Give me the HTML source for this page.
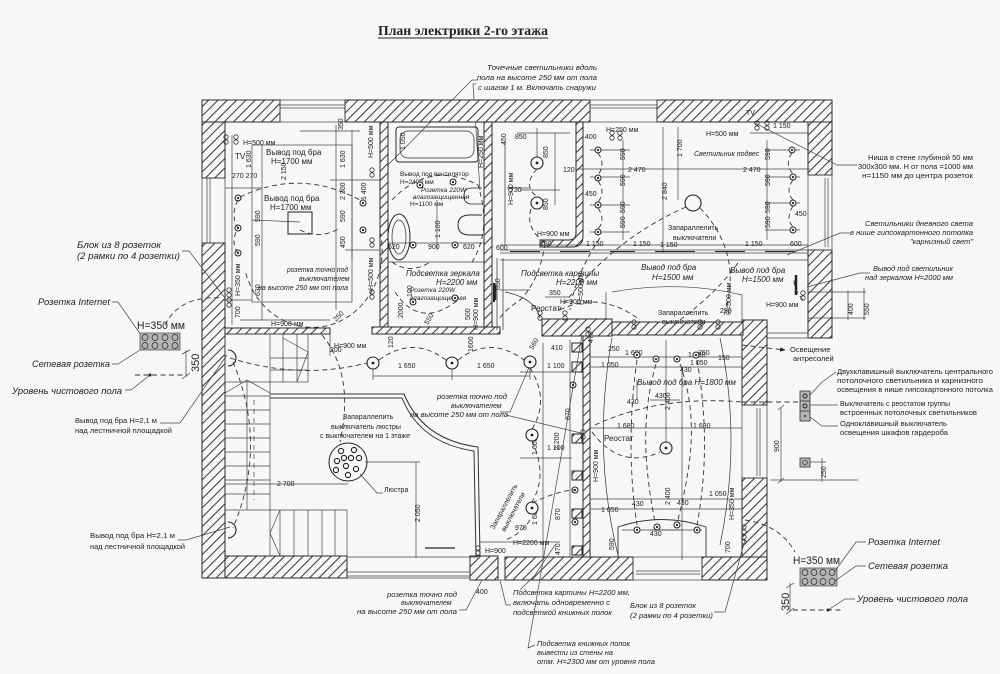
<!DOCTYPE html>
<html><head><meta charset="utf-8"><style>
html,body{margin:0;padding:0;background:#f7f7f7;}
svg{display:block}
text{font-family:"Liberation Sans",sans-serif;fill:#222}
.i{font-style:italic}
.l{fill:none;stroke:#444;stroke-width:.7}
.k{fill:none;stroke:#2a2a2a;stroke-width:1}
.d{fill:none;stroke:#333;stroke-width:.9;stroke-dasharray:5 3.5}
.w{fill:url(#h);stroke:#2a2a2a;stroke-width:1}
.f6{font-size:6.5px}.f7{font-size:7px}.f75{font-size:7.5px}.f8{font-size:8px}.f9{font-size:9.5px}
</style></head><body>
<svg xmlns="http://www.w3.org/2000/svg" width="1000" height="674" viewBox="0 0 1000 674">
<defs>
<pattern id="h" patternUnits="userSpaceOnUse" width="6.6" height="6.6" patternTransform="rotate(45)"><rect width="6.6" height="6.6" fill="#f7f7f7"/><line x1="0.5" y1="0" x2="0.5" y2="6.6" stroke="#333" stroke-width="1"/></pattern>
<marker id="ar" viewBox="0 0 10 10" refX="9" refY="5" markerWidth="6" markerHeight="6" orient="auto"><path d="M0,1 L10,5 L0,9 z" fill="#222"/></marker>
<g id="L"><circle r="6" fill="#f7f7f7" stroke="#222" stroke-width="1.1"/><circle r="1.4" fill="#222"/></g>
<g id="s"><circle r="3" fill="#f7f7f7" stroke="#222" stroke-width="1"/><circle r="1.1" fill="#222"/></g>
<g id="o"><circle r="2.2" fill="none" stroke="#333" stroke-width=".8"/><circle cy="5" r="2.2" fill="none" stroke="#333" stroke-width=".8"/></g>
</defs>
<rect width="1000" height="674" fill="#f7f7f7"/>

<!-- Title -->
<text x="378" y="35" font-weight="bold" font-size="14" textLength="170" lengthAdjust="spacingAndGlyphs" style="font-family:'Liberation Serif',serif">План электрики 2-го этажа</text>
<line x1="378" y1="38" x2="548" y2="38" stroke="#222" stroke-width="1"/>

<!-- Top note -->
<text x="487" y="70" class="i f75" textLength="110" lengthAdjust="spacingAndGlyphs">Точечные светильники вдоль</text>
<text x="477" y="80" class="i f75" textLength="120" lengthAdjust="spacingAndGlyphs">пола на высоте 250 мм от пола</text>
<text x="478" y="90" class="i f75" textLength="118" lengthAdjust="spacingAndGlyphs">с шагом 1 м. Включать снаружи</text>
<polyline class="l" points="478,80 472,80 387,166"/>
<polyline class="l" points="476,84 473,84 480,190"/>

<!-- ============ WALLS ============ -->
<g>
<rect class="w" x="202" y="100" width="78" height="22"/>
<rect class="w" x="345" y="100" width="245" height="22"/>
<rect class="w" x="657" y="100" width="175" height="22"/>
<rect class="w" x="808" y="122" width="24" height="53"/>
<rect class="w" x="808" y="250" width="24" height="88"/>
<rect class="w" x="202" y="122" width="23" height="56"/>
<rect class="w" x="202" y="243" width="23" height="335"/>
<rect class="w" x="225" y="556" width="122" height="22"/>
<rect class="w" x="470" y="556" width="28" height="24"/>
<rect class="w" x="505" y="557" width="128" height="23"/>
<rect class="w" x="702" y="557" width="65" height="23"/>
<rect class="w" x="742" y="320" width="25" height="85"/>
<rect class="w" x="742" y="478" width="25" height="79"/>
<!-- interior -->
<rect class="w" x="225" y="328" width="105" height="6"/>
<rect class="w" x="380" y="122" width="8" height="211"/>
<rect class="w" x="484" y="122" width="8" height="211"/>
<rect class="w" x="372" y="327" width="128" height="7"/>
<path class="w" d="M576,122 L583,122 L583,236 Q583,247 572,247 L540,247 L540,240 L569,240 Q576,240 576,233 Z"/>
<rect class="w" x="542" y="319" width="70" height="17"/>
<rect class="w" x="612" y="322" width="131" height="13"/>
<rect class="w" x="583" y="336" width="7" height="221"/>
<!-- bookshelf posts -->
<rect class="w" x="572" y="343" width="10" height="9"/>
<rect class="w" x="572" y="362" width="10" height="10"/>
<rect class="w" x="572" y="434" width="10" height="9"/>
<rect class="w" x="572" y="471" width="10" height="9"/>
<rect class="w" x="572" y="509" width="10" height="9"/>
<rect class="w" x="572" y="546" width="10" height="9"/>
</g>

<!-- windows -->
<g class="l">
<rect x="280" y="100" width="65" height="22"/><line x1="280" y1="105" x2="345" y2="105"/><line x1="280" y1="108" x2="345" y2="108"/>
<rect x="590" y="100" width="67" height="22"/><line x1="590" y1="105" x2="657" y2="105"/><line x1="590" y1="108" x2="657" y2="108"/>
<rect x="202" y="178" width="23" height="65"/><line x1="207" y1="178" x2="207" y2="243"/><line x1="210" y1="178" x2="210" y2="243"/>
<rect x="808" y="175" width="24" height="75"/><line x1="825" y1="178" x2="825" y2="247"/><line x1="828" y1="178" x2="828" y2="247"/>
<rect x="742" y="405" width="25" height="73"/><line x1="757" y1="408" x2="757" y2="476"/><line x1="760" y1="408" x2="760" y2="476"/>
<line x1="347" y1="572" x2="470" y2="572"/><line x1="347" y1="576" x2="470" y2="576"/><line x1="347" y1="578" x2="470" y2="578"/>
<line x1="347" y1="557" x2="478" y2="557"/>
<rect x="633" y="557" width="69" height="23"/><line x1="636" y1="571" x2="700" y2="571"/><line x1="636" y1="574" x2="700" y2="574"/>
<line x1="767" y1="333" x2="808" y2="333"/><line x1="767" y1="338" x2="808" y2="338"/>
<line x1="498" y1="580" x2="505" y2="580"/>
</g>

<!-- Bathroom fixtures -->
<g class="k">
<rect x="396" y="127" width="82" height="35" rx="3"/>
<rect x="400" y="131" width="74" height="27" rx="8" stroke-width=".7"/>
<ellipse cx="399" cy="237" rx="11" ry="23"/>
<ellipse cx="399" cy="237" rx="7" ry="17" stroke-width=".7"/>
<path d="M482,215 L470,215 Q458,215 458,225 Q458,235 470,235 L482,235"/>
<path d="M482,188 L472,188 Q464,188 464,196 Q464,204 472,204 L482,204" stroke-width=".8"/>
<line x1="505" y1="140" x2="505" y2="245" stroke-width=".7"/>
<line x1="497" y1="258" x2="497" y2="330" stroke-width=".7"/>
<line x1="503" y1="258" x2="503" y2="330" stroke-width=".7"/>
<path d="M505,292 Q535,298 540,318" stroke-width=".7"/>
<line x1="495" y1="285" x2="495" y2="300" stroke-width="2.5"/>
</g>

<!-- Top-left room -->
<g class="l">
<rect x="252" y="145" width="100" height="157"/>
<rect x="288" y="212" width="24" height="22" stroke="#222" stroke-width="1"/>
<line x1="232" y1="135" x2="232" y2="325"/>
<line x1="225" y1="188" x2="262" y2="188"/>
<line x1="225" y1="300" x2="252" y2="300"/>
<line x1="352" y1="130" x2="352" y2="260"/>
<line x1="300" y1="131" x2="360" y2="131"/>
<line x1="336" y1="125" x2="336" y2="310"/>
<line x1="262" y1="145" x2="262" y2="320"/>
<line x1="240" y1="320" x2="330" y2="320"/>
<line x1="252" y1="220" x2="300" y2="222"/>
<line x1="330" y1="180" x2="380" y2="180"/>
<line x1="345" y1="250" x2="380" y2="250"/>
</g>
<g class="f7">
<text x="243" y="145">Н=500 мм</text>
<text x="235" y="159" font-size="8">TV</text>
<text x="232" y="178">270 270</text>
<text x="266" y="155" class="f8">Вывод под бра</text>
<text x="271" y="164" class="f8">Н=1700 мм</text>
<text x="264" y="201" class="f8">Вывод под бра</text>
<text x="270" y="210" class="f8">Н=1700 мм</text>
<text x="287" y="272" class="i" textLength="61" lengthAdjust="spacingAndGlyphs">розетка точно под</text>
<text x="299" y="281" class="i">выключателем</text>
<text x="258" y="290" class="i" textLength="90" lengthAdjust="spacingAndGlyphs">на высоте  250 мм от пола</text>
<text x="271" y="326">Н=900 мм</text>
<text x="334" y="348">Н=900 мм</text>
<text x="330" y="352" font-size="7">200</text>
<text transform="translate(251,168) rotate(-90)">1 630</text>
<text transform="translate(286,180) rotate(-90)">2 150</text>
<text transform="translate(345,168) rotate(-90)">1 630</text>
<text transform="translate(343,130) rotate(-90)">350</text>
<text transform="translate(345,200) rotate(-90)">2 300</text>
<text transform="translate(366,200) rotate(-90)">1 400</text>
<text transform="translate(260,222) rotate(-90)">590</text>
<text transform="translate(260,246) rotate(-90)">590</text>
<text transform="translate(260,296) rotate(-90)">630</text>
<text transform="translate(345,222) rotate(-90)">590</text>
<text transform="translate(345,248) rotate(-90)">450</text>
<text transform="translate(240,318) rotate(-90)">700</text>
<text transform="translate(240,296) rotate(-90)">Н=350 мм</text>
<text transform="translate(373,158) rotate(-90)">Н=500 мм</text>
<text transform="translate(373,290) rotate(-90)">Н=500 мм</text>
<text transform="translate(336,322) rotate(-45)">250</text>
</g>

<!-- Bathroom labels -->
<g class="f6">
<text x="400" y="176">Вывод под вентилятор</text>
<text x="400" y="184">Н=2400 мм</text>
<text x="421" y="192" class="i">Розетка 220W</text>
<text x="413" y="199" class="i">влагозащищенная</text>
<text x="410" y="206">Н=1100 мм</text>
<text x="388" y="249" font-size="7">620</text>
<text x="428" y="249" font-size="7">900</text>
<text x="463" y="249" font-size="7">620</text>
<text x="406" y="276" class="i f8">Подсветка зеркала</text>
<text x="436" y="285" class="i f8">Н=2200 мм</text>
<text x="410" y="292" class="i">Розетка 220W</text>
<text x="410" y="300" class="i">влагозащищенная</text>
<text transform="translate(440,238) rotate(-90)" font-size="7">1 100</text>
<text transform="translate(412,297) rotate(-90)" font-size="7">100</text>
<text transform="translate(403,318) rotate(-90)" font-size="7">2000</text>
<text transform="translate(428,325) rotate(-60)" font-size="7">550</text>
<text transform="translate(470,320) rotate(-90)" font-size="7">500</text>
<text transform="translate(478,330) rotate(-90)" font-size="7">Н=900 мм</text>
<text transform="translate(405,150) rotate(-90)" font-size="7">1 050</text>
<text transform="translate(483,168) rotate(-90)" font-size="7">Н=250 мм</text>
<text transform="translate(393,348) rotate(-90)" font-size="7">120</text>
<text transform="translate(473,352) rotate(-90)" font-size="7">1600</text>
</g>
<g class="l">
<line x1="388" y1="243" x2="484" y2="243"/>
<line x1="437" y1="200" x2="437" y2="250"/>
<line x1="388" y1="262" x2="484" y2="262"/>
</g>

<!-- Top-right room -->
<g class="l">
<line x1="537" y1="128" x2="537" y2="165"/>
<line x1="517" y1="133" x2="570" y2="133"/>
<line x1="555" y1="133" x2="555" y2="205"/>
<line x1="520" y1="190" x2="560" y2="190"/>
<line x1="507" y1="188" x2="530" y2="188"/>
<line x1="577" y1="169" x2="810" y2="169"/>
<line x1="663" y1="127" x2="663" y2="253"/>
<line x1="678" y1="127" x2="678" y2="200"/>
<line x1="590" y1="150" x2="630" y2="150"/><line x1="590" y1="177" x2="630" y2="177"/><line x1="590" y1="205" x2="630" y2="205"/><line x1="590" y1="232" x2="630" y2="232"/>
<line x1="623" y1="140" x2="623" y2="240"/>
<line x1="765" y1="150" x2="800" y2="150"/><line x1="765" y1="177" x2="800" y2="177"/><line x1="765" y1="203" x2="800" y2="203"/><line x1="765" y1="230" x2="800" y2="230"/>
<line x1="767" y1="140" x2="767" y2="240"/>
<line x1="500" y1="245" x2="808" y2="245"/>
<line x1="500" y1="250" x2="808" y2="250"/>
<line x1="500" y1="253" x2="808" y2="253"/>
<line x1="500" y1="260" x2="808" y2="260"/>
<line x1="750" y1="133" x2="808" y2="133"/>
</g>
<g class="k" stroke-width="1.3">
<line x1="510" y1="251.5" x2="540" y2="251.5"/><line x1="560" y1="251.5" x2="590" y2="251.5"/><line x1="610" y1="251.5" x2="635" y2="251.5"/><line x1="655" y1="251.5" x2="695" y2="251.5"/><line x1="715" y1="251.5" x2="745" y2="251.5"/><line x1="765" y1="251.5" x2="795" y2="251.5"/>
</g>
<g class="f7">
<text x="515" y="139">850</text>
<text transform="translate(506,145) rotate(-90)">450</text>
<text transform="translate(548,158) rotate(-90)">850</text>
<text transform="translate(548,210) rotate(-90)">850</text>
<text transform="translate(513,205) rotate(-90)">Н=900 мм</text>
<text x="563" y="172">120</text>
<text x="510" y="192">730</text>
<text x="537" y="236">Н=900 мм</text>
<text x="585" y="139">400</text>
<text x="585" y="196">450</text>
<text x="606" y="132">Н=250 мм</text>
<text transform="translate(625,160) rotate(-90)">590</text>
<text transform="translate(625,186) rotate(-90)">590</text>
<text transform="translate(625,213) rotate(-90)">590</text>
<text transform="translate(625,228) rotate(-90)">590</text>
<text x="628" y="172">2 470</text>
<text transform="translate(667,200) rotate(-90)">2 840</text>
<text transform="translate(682,157) rotate(-90)">1 700</text>
<text x="706" y="136">Н=500 мм</text>
<text x="746" y="115">TV</text>
<text x="694" y="156" class="i">Светильник подвес</text>
<text x="743" y="172">2 470</text>
<text x="773" y="128">1 150</text>
<text transform="translate(770,160) rotate(-90)">590</text>
<text transform="translate(770,186) rotate(-90)">590</text>
<text transform="translate(770,213) rotate(-90)">590</text>
<text transform="translate(770,228) rotate(-90)">590</text>
<text x="795" y="216">450</text>
<text x="668" y="230">Запараллелить</text>
<text x="673" y="240">выключатели</text>
<text x="586" y="246">1 150</text>
<text x="633" y="246">1 150</text>
<text x="660" y="247">1 150</text>
<text x="745" y="246">1 150</text>
<text x="790" y="246">600</text>
<text x="540" y="246">150</text>
<text x="521" y="276" class="i f8">Подсветка картины</text>
<text x="556" y="285" class="i f8">Н=2200 мм</text>
<text x="641" y="270" class="i f8">Вывод под бра</text>
<text x="652" y="280" class="i f8">Н=1500 мм</text>
<text x="730" y="273" class="i f8">Вывод под бра</text>
<text x="742" y="282" class="i f8">Н=1500 мм</text>
<text x="766" y="307">Н=900 мм</text>
<text x="549" y="295">350</text>
<text x="560" y="304">Н=900 мм</text>
<text x="531" y="311" font-size="8">Реостат</text>
<text x="658" y="315">Запараллелить</text>
<text x="662" y="324">выключатели</text>
<text x="720" y="313">250</text>
<text transform="translate(583,305) rotate(-90)">Н=500 мм</text>
<text transform="translate(731,315) rotate(-90)">Н=500 мм</text>
<text transform="translate(500,290) rotate(-90)">650</text>
<text x="496" y="250">600</text>
</g>
<g class="l">
<line x1="500" y1="290" x2="530" y2="290"/>
<line x1="606" y1="292" x2="606" y2="320"/>
<path d="M612,292 Q680,280 742,295"/>
<line x1="742" y1="295" x2="742" y2="320"/>
<line x1="545" y1="297" x2="570" y2="297"/>
</g>

<!-- Middle area -->
<g class="l">
<line x1="270" y1="394" x2="404" y2="394" stroke="#333" stroke-width="1"/>
<line x1="270" y1="398" x2="402" y2="398" stroke="#333" stroke-width="1"/>
<path d="M404,394 Q423,440 478,447" stroke="#333" stroke-width="1"/>
<path d="M402,398 Q420,443 474,451" stroke="#333" stroke-width="1"/>
<line x1="478" y1="447" x2="480" y2="557" stroke="#333" stroke-width="1"/>
<line x1="474" y1="451" x2="476" y2="557" stroke="#333" stroke-width="1"/>
<line x1="373" y1="376" x2="530" y2="376"/>
<line x1="373" y1="366" x2="373" y2="380"/><line x1="452" y1="366" x2="452" y2="380"/><line x1="530" y1="366" x2="530" y2="380"/>
<line x1="225" y1="484" x2="348" y2="484"/>
<line x1="365" y1="462" x2="420" y2="462"/>
<line x1="416" y1="462" x2="416" y2="558"/>
<line x1="543" y1="343" x2="543" y2="557"/>
<line x1="570" y1="340" x2="570" y2="557"/>
<line x1="520" y1="372" x2="572" y2="372"/>
<line x1="520" y1="458" x2="572" y2="458"/>
<line x1="480" y1="542" x2="560" y2="542"/>
</g>
<!-- stairs -->
<g class="l" stroke="#333" stroke-width=".8">
<rect x="225" y="334" width="83" height="48"/>
<line x1="270" y1="334" x2="270" y2="556"/>
<line x1="283" y1="334" x2="283" y2="382"/><line x1="297" y1="334" x2="297" y2="382"/>
<line x1="270" y1="358" x2="308" y2="358"/><line x1="270" y1="370" x2="308" y2="370"/>
<polyline points="283,338 308,352 297,382"/>
<line x1="225" y1="396" x2="270" y2="396"/><line x1="225" y1="410" x2="270" y2="410"/><line x1="225" y1="424" x2="270" y2="424"/><line x1="225" y1="438" x2="270" y2="438"/><line x1="225" y1="452" x2="270" y2="452"/><line x1="225" y1="466" x2="270" y2="466"/><line x1="225" y1="480" x2="270" y2="480"/><line x1="225" y1="494" x2="270" y2="494"/>
<line x1="225" y1="510" x2="347" y2="510"/>
<polyline points="225,393 247,380 270,393"/>
<line x1="247" y1="380" x2="247" y2="510"/>
<line x1="254" y1="400" x2="254" y2="500" stroke-dasharray="5 4"/>
<line x1="280" y1="510" x2="280" y2="556"/><line x1="294" y1="510" x2="294" y2="556"/><line x1="308" y1="510" x2="308" y2="556"/><line x1="322" y1="510" x2="322" y2="556"/><line x1="335" y1="510" x2="335" y2="556"/><line x1="347" y1="510" x2="347" y2="556"/>
<polyline points="280,510 270,533 280,556"/>
<line x1="330" y1="334" x2="330" y2="356"/>
</g>
<!-- chandelier -->
<circle cx="348" cy="462" r="19" fill="none" stroke="#222" stroke-width="1"/>
<g fill="none" stroke="#222" stroke-width="1.1">
<circle cx="341" cy="451" r="2.6"/><circle cx="354" cy="450" r="2.6"/><circle cx="337" cy="461" r="2.6"/><circle cx="344" cy="458" r="2.6"/><circle cx="351" cy="458" r="2.6"/><circle cx="359" cy="458" r="2.6"/><circle cx="346" cy="466" r="2.6"/><circle cx="336" cy="470" r="2.6"/><circle cx="356" cy="469" r="2.6"/><circle cx="348" cy="475" r="2.6"/>
</g>
<polyline class="l" points="360,474 377,493 383,493"/>
<g class="f7">
<text x="343" y="419">Запараллелить</text>
<text x="331" y="429">выключатель люстры</text>
<text x="320" y="438">с выключателем на 1 этаже</text>
<text x="384" y="492">Люстра</text>
<text x="277" y="486">2 700</text>
<text transform="translate(420,522) rotate(-90)">2 050</text>
<text x="398" y="368">1 650</text>
<text x="477" y="368">1 650</text>
<text x="437" y="399" class="i" textLength="70" lengthAdjust="spacingAndGlyphs">розетка точно под</text>
<text x="451" y="408" class="i">выключателем</text>
<text x="410" y="417" class="i" textLength="98" lengthAdjust="spacingAndGlyphs">на высоте  250 мм от пола</text>
<text x="387" y="597" class="i" textLength="70" lengthAdjust="spacingAndGlyphs">розетка точно под</text>
<text x="401" y="605" class="i">выключателем</text>
<text x="357" y="614" class="i" textLength="100" lengthAdjust="spacingAndGlyphs">на высоте  250 мм от пола</text>
<text x="476" y="594">400</text>
<text transform="translate(494,530) rotate(-62)">Запараллелить</text>
<text transform="translate(505,532) rotate(-62)">выключатели</text>
<text x="485" y="553">Н=900</text>
<text x="513" y="545">Н=2200 мм</text>
<text x="515" y="530">970</text>
<text transform="translate(537,525) rotate(-90)">1 600</text>
<text transform="translate(537,455) rotate(-90)">1 600</text>
<text transform="translate(559,450) rotate(-90)">2 200</text>
<text x="547" y="368">1 100</text>
<text x="547" y="450">1 100</text>
<text transform="translate(560,520) rotate(-90)">870</text>
<text transform="translate(560,555) rotate(-90)">470</text>
<text transform="translate(570,420) rotate(-90)">870</text>
<text x="551" y="350">410</text>
<text transform="translate(533,350) rotate(-60)">560</text>
</g>
<polyline class="l" points="459,610 466,610 482,580"/>
<polyline class="l" points="500,412 510,412 530,365"/>
<polyline class="l" points="506,415 585,434"/>

<!-- Lower right room -->
<g class="l">
<path d="M612,338 Q592,450 618,555" stroke="#333"/>
<path d="M720,338 Q742,440 720,545" stroke="#333"/>
<path d="M618,557 L618,527 Q662,512 706,527 L706,557" stroke="#333" stroke-width=".9"/>
<line x1="622" y1="530" x2="702" y2="530"/>
<line x1="590" y1="357" x2="742" y2="357"/>
<line x1="590" y1="367" x2="742" y2="367"/>
<line x1="590" y1="428" x2="742" y2="428"/>
<line x1="590" y1="499" x2="742" y2="499"/>
<line x1="590" y1="509" x2="742" y2="509"/>
<line x1="682" y1="367" x2="682" y2="560"/>
<line x1="666" y1="340" x2="666" y2="448"/>
<line x1="637" y1="380" x2="637" y2="400"/>
<line x1="650" y1="400" x2="680" y2="400"/>
<line x1="650" y1="530" x2="680" y2="530"/>
</g>
<g class="f7">
<text x="608" y="351">250</text>
<text x="601" y="367">1 050</text>
<text x="625" y="355">1 680</text>
<text x="688" y="357">1 680</text>
<text x="690" y="365">1 050</text>
<text x="698" y="355">250</text>
<text x="718" y="360">150</text>
<text x="637" y="385" class="i f8">Вывод под бра Н=1800 мм</text>
<text x="655" y="398">430</text>
<text x="627" y="404">430</text>
<text x="680" y="372">430</text>
<text x="617" y="428">1 680</text>
<text x="693" y="428">1 680</text>
<text x="604" y="441" font-size="8">Реостат</text>
<text transform="translate(670,410) rotate(-90)">2 400</text>
<text transform="translate(670,505) rotate(-90)">2 400</text>
<text x="709" y="496">1 050</text>
<text x="601" y="512">1 050</text>
<text x="632" y="506">430</text>
<text x="677" y="505">430</text>
<text x="650" y="536">430</text>
<text transform="translate(598,482) rotate(-90)">Н=900 мм</text>
<text transform="translate(614,550) rotate(-90)">590</text>
<text transform="translate(730,553) rotate(-90)">700</text>
<text transform="translate(734,520) rotate(-90)">Н=350 мм</text>
<text transform="translate(593,343) rotate(-90)">470</text>
</g>

<!-- Lights -->
<g>
<use href="#s" x="238" y="198"/><use href="#s" x="238" y="228"/><use href="#s" x="238" y="253"/>
<use href="#s" x="363" y="203"/><use href="#s" x="363" y="230"/>
<use href="#s" x="420" y="185"/><use href="#s" x="453" y="182"/>
<use href="#s" x="413" y="302"/><use href="#s" x="455" y="298"/>
<use href="#s" x="413" y="245"/><use href="#s" x="455" y="245"/>
<use href="#L" x="373" y="363"/><use href="#L" x="452" y="363"/><use href="#L" x="530" y="362"/>
<use href="#L" x="532" y="435"/><use href="#L" x="532" y="508"/>
<use href="#L" x="537" y="163"/><use href="#L" x="537" y="203"/>
<use href="#s" x="598" y="150"/><use href="#s" x="598" y="178"/><use href="#s" x="598" y="205"/><use href="#s" x="598" y="232"/>
<use href="#s" x="792" y="150"/><use href="#s" x="793" y="177"/><use href="#s" x="793" y="203"/><use href="#s" x="793" y="230"/>
<circle cx="693" cy="203" r="8" fill="#f7f7f7" stroke="#222" stroke-width="1.1"/>
<use href="#s" x="637" y="355"/><use href="#s" x="656" y="359"/><use href="#s" x="677" y="359"/><use href="#s" x="696" y="355"/>
<use href="#s" x="637" y="530"/><use href="#s" x="657" y="527"/><use href="#s" x="677" y="525"/><use href="#s" x="697" y="530"/>
<use href="#L" x="666" y="448"/>
<use href="#s" x="573" y="385"/><use href="#s" x="575" y="490"/><use href="#s" x="575" y="522"/>
<path d="M228,350 A8,8 0 0 1 228,366" fill="none" stroke="#222" stroke-width="1.1"/>
<path d="M228,522 A8,8 0 0 1 228,538" fill="none" stroke="#222" stroke-width="1.1"/>
</g>
<!-- socket clusters -->
<g>
<use href="#o" x="229" y="290"/><use href="#o" x="229" y="300"/>
<use href="#o" x="226" y="137"/><use href="#o" x="236" y="137"/>
<use href="#o" x="372" y="240"/><use href="#o" x="372" y="170"/>
<use href="#o" x="372" y="292"/>
<use href="#o" x="612" y="133"/><use href="#o" x="620" y="133"/>
<use href="#o" x="757" y="123"/><use href="#o" x="767" y="123"/>
<use href="#o" x="744" y="527"/><use href="#o" x="744" y="537"/>
<use href="#o" x="803" y="293"/>
<use href="#o" x="540" y="313"/><use href="#o" x="565" y="313"/>
<use href="#o" x="634" y="322"/><use href="#o" x="700" y="322"/><use href="#o" x="718" y="322"/>
<use href="#o" x="478" y="548"/>
<use href="#o" x="588" y="329"/>
<use href="#o" x="583" y="432"/>
<line x1="796" y1="275" x2="796" y2="295" stroke="#222" stroke-width="2.5"/>
<line x1="494" y1="283" x2="494" y2="302" stroke="#222" stroke-width="2"/>
<line x1="425" y1="548" x2="455" y2="548" stroke="#222" stroke-width="1.3"/>
</g>

<!-- Dashed wiring -->
<g class="d">
<path d="M240,197 Q300,168 360,200"/>
<path d="M238,200 Q230,215 238,228 Q230,242 238,253"/>
<path d="M380,232 A62,68 0 0 1 245,270"/>
<path d="M300,230 Q320,240 340,228"/>
<path d="M392,200 Q430,160 478,185 Q492,230 472,262"/>
<path d="M395,292 Q420,330 458,300"/>
<path d="M392,262 Q410,275 430,262"/>
<path d="M230,358 Q300,380 367,363"/>
<path d="M379,360 Q413,335 446,360"/>
<path d="M458,360 Q490,335 524,360"/>
<path d="M322,335 Q355,375 340,442"/>
<path d="M233,362 Q268,445 233,528"/>
<path d="M530,368 Q550,400 532,429"/>
<path d="M532,441 Q548,475 532,502"/>
<path d="M532,503 Q560,490 575,490"/>
<path d="M537,169 Q522,185 537,197"/>
<path d="M531,209 Q525,228 545,243"/>
<path d="M598,153 Q606,164 598,175"/><path d="M598,181 Q606,192 598,202"/><path d="M598,208 Q606,220 598,229"/>
<path d="M792,153 Q784,164 793,174"/><path d="M793,180 Q785,191 793,200"/><path d="M793,206 Q785,218 793,227"/>
<path d="M686,207 Q610,240 557,313"/>
<path d="M700,208 Q745,255 723,318"/>
<path d="M545,243 Q540,280 520,300 Q505,310 500,318"/>
<path d="M600,238 Q575,275 570,310"/>
<path d="M803,300 Q790,285 796,275"/>
<path d="M742,345 L785,350" marker-end="url(#ar)"/>
<path d="M592,432 Q620,470 660,452"/>
<path d="M595,425 Q660,395 742,402"/>
<path d="M742,402 L800,402"/>
<path d="M656,364 C640,420 645,470 655,522"/>
<path d="M680,364 C700,420 690,470 678,520"/>
<path d="M637,360 Q625,445 637,525"/>
<path d="M697,360 Q712,445 697,525"/>
<path d="M560,310 Q600,290 640,320"/>
<path d="M680,320 Q720,290 740,260"/>
<path d="M745,520 Q780,525 795,552"/>
<path d="M165,325 Q180,295 222,298"/>
<path d="M530,520 Q520,535 505,540"/>
<path d="M135,375 L187,375"/>
<path d="M793,610 L842,610"/>
</g>
<circle cx="150" cy="375" r="1.5" fill="#222"/>
<circle cx="828" cy="610" r="1.5" fill="#222"/>

<!-- Left legend -->
<g>
<text x="77" y="248" class="i f9" textLength="84" lengthAdjust="spacingAndGlyphs">Блок из 8 розеток</text>
<text x="77" y="259" class="i f9" textLength="103" lengthAdjust="spacingAndGlyphs">(2 рамки по 4 розетки)</text>
<polyline class="l" points="182,251 189,251 225,298"/>
<text x="38" y="305" class="i f9" textLength="72" lengthAdjust="spacingAndGlyphs">Розетка Internet</text>
<polyline class="l" points="112,302 118,302 143,338"/>
<text x="137" y="329" font-size="11" textLength="48" lengthAdjust="spacingAndGlyphs">Н=350 мм</text>
<rect x="140" y="333" width="40" height="17" fill="#b5b5b5" stroke="#444" stroke-width=".7"/>
<g fill="none" stroke="#222" stroke-width=".7">
<circle cx="145" cy="337.5" r="3"/><circle cx="155" cy="337.5" r="3"/><circle cx="165" cy="337.5" r="3"/><circle cx="175" cy="337.5" r="3"/>
<circle cx="145" cy="345.5" r="3"/><circle cx="155" cy="345.5" r="3"/><circle cx="165" cy="345.5" r="3"/><circle cx="175" cy="345.5" r="3"/>
</g>
<text x="32" y="367" class="i f9" textLength="78" lengthAdjust="spacingAndGlyphs">Сетевая розетка</text>
<polyline class="l" points="112,364 118,364 140,350"/>
<text x="12" y="394" class="i f9" textLength="110" lengthAdjust="spacingAndGlyphs">Уровень чистового пола</text>
<polyline class="l" points="125,390 131,390 150,375"/>
<line class="l" x1="186" y1="350" x2="186" y2="377"/>
<line class="l" x1="182" y1="354" x2="190" y2="350"/><line class="l" x1="182" y1="379" x2="190" y2="373"/>
<text transform="translate(199,372) rotate(-90)" font-size="11">350</text>
<text x="75" y="423" class="f75" textLength="82" lengthAdjust="spacingAndGlyphs">Вывод под бра Н=2,1 м</text>
<text x="75" y="433" class="f75" textLength="97" lengthAdjust="spacingAndGlyphs">над лестничной площадкой</text>
<polyline class="l" points="160,423 180,423 227,355"/>
<text x="90" y="538" class="f75" textLength="85" lengthAdjust="spacingAndGlyphs">Вывод под бра Н=2,1 м</text>
<text x="90" y="549" class="f75" textLength="95" lengthAdjust="spacingAndGlyphs">над лестничной площадкой</text>
<polyline class="l" points="178,540 186,540 230,527"/>
</g>

<!-- Right legend -->
<g class="f75">
<text x="868" y="160" textLength="105" lengthAdjust="spacingAndGlyphs">Ниша в стене глубиной 50 мм</text>
<text x="858" y="169" textLength="115" lengthAdjust="spacingAndGlyphs">300х300 мм. Н от пола =1000 мм</text>
<text x="862" y="178" textLength="111" lengthAdjust="spacingAndGlyphs">н=1150 мм до центра розеток</text>
<polyline class="l" points="857,165 837,165 753,122"/>
<text x="865" y="226" class="i" textLength="108" lengthAdjust="spacingAndGlyphs">Светильники дневного света</text>
<text x="850" y="235" class="i" textLength="123" lengthAdjust="spacingAndGlyphs">в нише гипсокартонного потолка</text>
<text x="910" y="244" class="i" textLength="63" lengthAdjust="spacingAndGlyphs">"карнизный свет"</text>
<polyline class="l" points="850,233 840,233 787,255"/>
<text x="873" y="271" class="i" textLength="80" lengthAdjust="spacingAndGlyphs">Вывод под светильник</text>
<text x="865" y="280" class="i" textLength="88" lengthAdjust="spacingAndGlyphs">над зеркалом Н=2000 мм</text>
<polyline class="l" points="870,273 860,273 807,287"/>
<line class="l" x1="808" y1="292" x2="866" y2="292"/>
<line class="l" x1="808" y1="318" x2="866" y2="318"/>
<line class="l" x1="848" y1="290" x2="848" y2="320"/>
<line class="l" x1="864" y1="288" x2="864" y2="320"/>
<text transform="translate(853,315) rotate(-90)" font-size="7">400</text>
<text transform="translate(869,315) rotate(-90)" font-size="7">550</text>
<text x="790" y="352">Освещение</text>
<text x="793" y="361">антресолей</text>
<text x="837" y="374" textLength="156" lengthAdjust="spacingAndGlyphs">Двухклавишный выключатель центрального</text>
<text x="837" y="383" textLength="146" lengthAdjust="spacingAndGlyphs">потолочного светильника и карнизного</text>
<text x="837" y="392" textLength="156" lengthAdjust="spacingAndGlyphs">освещения в нише гипсокартонного потолка</text>
<text x="840" y="406" textLength="110" lengthAdjust="spacingAndGlyphs">Выключатель с реостатом группы</text>
<text x="840" y="415" textLength="137" lengthAdjust="spacingAndGlyphs">встроенных потолочных светильников</text>
<text x="840" y="426" textLength="107" lengthAdjust="spacingAndGlyphs">Одноклавишный выключатель</text>
<text x="840" y="435" textLength="108" lengthAdjust="spacingAndGlyphs">освещения шкафов гардероба</text>
</g>
<g>
<rect x="800" y="391" width="10" height="30" fill="#b5b5b5" stroke="#333" stroke-width=".8"/>
<line x1="800" y1="401" x2="810" y2="401" stroke="#333" stroke-width=".8"/><line x1="800" y1="411" x2="810" y2="411" stroke="#333" stroke-width=".8"/>
<circle cx="805" cy="396" r="2" fill="none" stroke="#222"/><circle cx="805" cy="406" r="2" fill="none" stroke="#222"/><circle cx="805" cy="416" r="1" fill="#222"/>
<polyline class="l" points="810,395 822,382 836,372"/>
<line class="l" x1="810" y1="405" x2="838" y2="405"/>
<polyline class="l" points="810,417 822,426 838,426"/>
<line class="l" x1="781" y1="407" x2="781" y2="482"/>
<line class="l" x1="778" y1="410" x2="784" y2="405"/>
<line class="l" x1="778" y1="483" x2="784" y2="478"/>
<line class="l" x1="770" y1="480" x2="858" y2="480"/>
<text transform="translate(779,452) rotate(-90)" font-size="7">900</text>
<rect x="800" y="458" width="10" height="9" fill="#b5b5b5" stroke="#333" stroke-width=".8"/>
<circle cx="805" cy="462.5" r="2.3" fill="none" stroke="#222" stroke-width=".7"/>
<line class="l" x1="810" y1="462" x2="826" y2="462"/>
<line class="l" x1="822" y1="458" x2="822" y2="482"/>
<text transform="translate(826,478) rotate(-90)" font-size="7">250</text>
</g>

<!-- Right bottom legend -->
<g>
<text x="793" y="564" font-size="11" textLength="47" lengthAdjust="spacingAndGlyphs">Н=350 мм</text>
<rect x="800" y="568" width="37" height="18" fill="#b5b5b5" stroke="#444" stroke-width=".7"/>
<g fill="none" stroke="#222" stroke-width=".7">
<circle cx="805" cy="572.5" r="3"/><circle cx="814" cy="572.5" r="3"/><circle cx="823" cy="572.5" r="3"/><circle cx="832" cy="572.5" r="3"/>
<circle cx="805" cy="581.5" r="3"/><circle cx="814" cy="581.5" r="3"/><circle cx="823" cy="581.5" r="3"/><circle cx="832" cy="581.5" r="3"/>
</g>
<text x="868" y="545" class="i f9" textLength="72" lengthAdjust="spacingAndGlyphs">Розетка Internet</text>
<polyline class="l" points="866,542 856,542 835,571"/>
<text x="868" y="569" class="i f9" textLength="80" lengthAdjust="spacingAndGlyphs">Сетевая розетка</text>
<polyline class="l" points="866,566 856,566 835,581"/>
<text x="857" y="602" class="i f9" textLength="111" lengthAdjust="spacingAndGlyphs">Уровень чистового пола</text>
<polyline class="l" points="855,599 845,599 828,610"/>
<line class="l" x1="790" y1="583" x2="790" y2="612"/>
<line class="l" x1="786" y1="588" x2="794" y2="583"/><line class="l" x1="786" y1="614" x2="794" y2="608"/>
<text transform="translate(789,611) rotate(-90)" font-size="11">350</text>
</g>

<!-- Bottom notes -->
<g class="f75">
<text x="513" y="595" class="i" textLength="117" lengthAdjust="spacingAndGlyphs">Подсветка картины Н=2200 мм,</text>
<text x="513" y="605" class="i" textLength="97" lengthAdjust="spacingAndGlyphs">включать одновременно с</text>
<text x="513" y="615" class="i" textLength="99" lengthAdjust="spacingAndGlyphs">подсветкой книжных полок</text>
<polyline class="l" points="511,605 506,605 500,580"/>
<polyline class="l" points="520,590 535,575 555,545"/>
<text x="630" y="608" class="i" textLength="66" lengthAdjust="spacingAndGlyphs">Блок из 8 розеток</text>
<text x="630" y="618" class="i" textLength="83" lengthAdjust="spacingAndGlyphs">(2 рамки по 4 розетки)</text>
<polyline class="l" points="714,612 725,612 745,540"/>
<text x="537" y="646" class="i" textLength="93" lengthAdjust="spacingAndGlyphs">Подсветка книжных полок</text>
<text x="537" y="655" class="i" textLength="76" lengthAdjust="spacingAndGlyphs">вывести из стены на</text>
<text x="537" y="664" class="i" textLength="118" lengthAdjust="spacingAndGlyphs">отм.  Н=2300 мм от уровня пола</text>
<polyline class="l" points="535,645 528,648 582,335"/>
</g>
</svg>
</body></html>
